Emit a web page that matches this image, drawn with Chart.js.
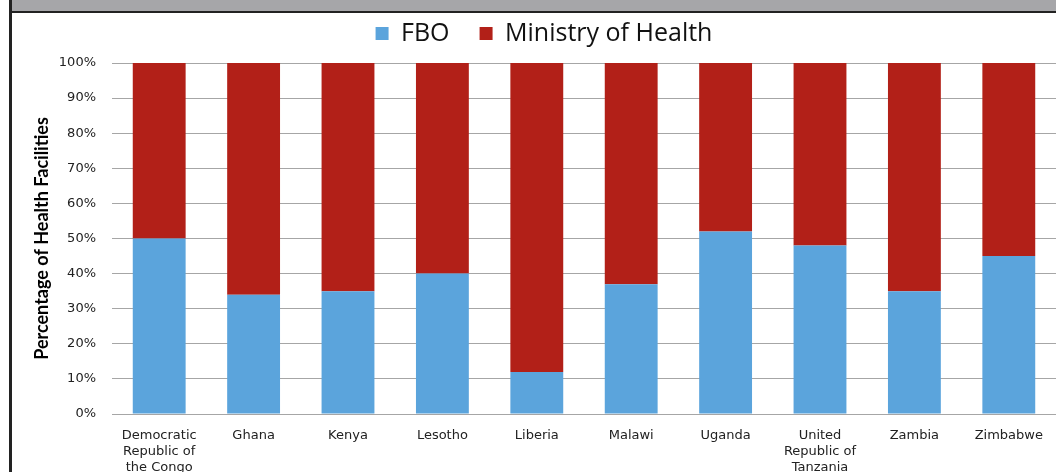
<!DOCTYPE html>
<html>
<head>
<meta charset="utf-8">
<script src="https://cdn.jsdelivr.net/npm/chart.js@4/dist/chart.umd.min.js"></script>
<style>
  html, body { margin: 0; padding: 0; background: #fff; overflow: hidden; }
  #marco { position: relative; width: 1056px; height: 472px; }
  #banda { position: absolute; left: 9px; top: 0; width: 1047px; height: 11px; background: #a6a6a9; border-bottom: 2px solid #222; }
  #borde { position: absolute; left: 9px; top: 0; width: 3px; height: 472px; background: #222; }
  canvas { position: absolute; left: 0; top: 0; }
</style>
</head>
<body>
<div id="marco">
  <canvas id="grafico" width="1056" height="472"></canvas>
  <div id="banda"></div>
  <div id="borde"></div>
</div>
<script>
// Distribución de establecimientos de salud: FBO vs Ministerio de Salud (%)
const paises = [
  ['Democratic', 'Republic of', 'the Congo'], 'Ghana', 'Kenya', 'Lesotho', 'Liberia',
  'Malawi', 'Uganda', ['United', 'Republic of', 'Tanzania'], 'Zambia', 'Zimbabwe',
];
const valoresFBO = [50, 34, 35, 40, 12, 37, 52, 48, 35, 45];
const valoresMinisterio = [50, 66, 65, 60, 88, 63, 48, 52, 65, 55];
const ticksY = [0, 10, 20, 30, 40, 50, 60, 70, 80, 90, 100];

const fuenteEje = 'DejaVu Sans';

// La leyenda ocupa un alto fijo (el área del gráfico empieza donde en la imagen)
// y se dibuja un poco a la derecha del centro, como en el original
const ajusteLeyenda = {
  id: 'ajusteLeyenda',
  afterInit(chart) {
    const leyenda = chart.legend;
    if (!leyenda) return;
    const fitOriginal = leyenda.fit.bind(leyenda);
    leyenda.fit = function () {
      fitOriginal();
      this.height = 72;
    };
    const drawOriginal = leyenda.draw.bind(leyenda);
    leyenda.draw = function () {
      this.left += 10; this.right += 10;
      drawOriginal();
      this.left -= 10; this.right -= 10;
    };
  },
};

new Chart(document.getElementById('grafico'), {
  type: 'bar',
  data: {
    labels: paises,
    datasets: [
      { label: 'FBO', data: valoresFBO, backgroundColor: '#5ba4dc', barPercentage: 0.56, categoryPercentage: 1 },
      { label: 'Ministry of Health', data: valoresMinisterio, backgroundColor: '#b22018', barPercentage: 0.56, categoryPercentage: 1 },
    ],
  },
  plugins: [ajusteLeyenda],
  options: {
    responsive: false,
    animation: false,
    layout: { padding: { left: 12, right: 0, top: -9, bottom: 0 } },
    plugins: {
      legend: {
        position: 'top',
        labels: {
          boxWidth: 13, boxHeight: 13, padding: 30,
          color: '#111',
          font: { family: 'Open Sans', size: 25 },
        },
      },
      tooltip: { enabled: false },
    },
    scales: {
      x: {
        stacked: true,
        grid: { display: false },
        border: { color: '#a6a6a6' },
        ticks: { color: '#222', padding: 6, maxRotation: 0, autoSkip: false, font: { family: fuenteEje, size: 13, lineHeight: 1.23 } },
        afterFit: (s) => { s.height = 58; },
      },
      y: {
        stacked: true,
        min: 0,
        max: 100,
        afterBuildTicks: (s) => { s.ticks = ticksY.map((v) => ({ value: v })); },
        grid: { color: '#a6a6a6', drawTicks: false },
        border: { display: false },
        ticks: { color: '#222', padding: 16, font: { family: fuenteEje, size: 13 }, callback: (v) => v + '%' },
        title: {
          display: true,
          text: 'Percentage of Health Facilities',
          color: '#000',
          padding: { top: 19, bottom: 0 },
          font: { family: 'Lato', size: 18, weight: 'bold' },
        },
        afterFit: (s) => { s.width = 100; },
      },
    },
  },
});
</script>
</body>
</html>
